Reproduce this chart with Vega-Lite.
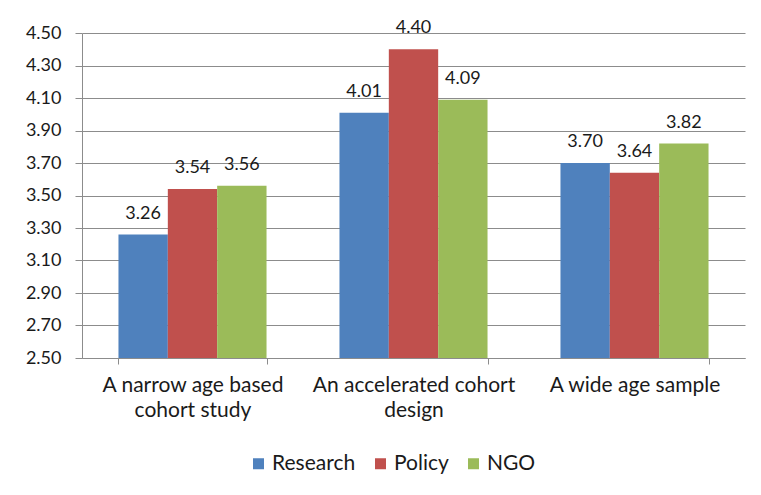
{
  "$schema": "https://vega.github.io/schema/vega-lite/v6.json",
  "width": 663,
  "height": 325,
  "autosize": {"type": "none"},
  "padding": {"left": 82, "top": 33, "right": 16, "bottom": 137},
  "background": "white",
  "data": {
    "values": [
      {"design": "A narrow age based cohort study", "group": "Research", "score": 3.26},
      {"design": "A narrow age based cohort study", "group": "Policy", "score": 3.54},
      {"design": "A narrow age based cohort study", "group": "NGO", "score": 3.56},
      {"design": "An accelerated cohort design", "group": "Research", "score": 4.01},
      {"design": "An accelerated cohort design", "group": "Policy", "score": 4.40},
      {"design": "An accelerated cohort design", "group": "NGO", "score": 4.09},
      {"design": "A wide age sample", "group": "Research", "score": 3.70},
      {"design": "A wide age sample", "group": "Policy", "score": 3.64},
      {"design": "A wide age sample", "group": "NGO", "score": 3.82}
    ]
  },
  "encoding": {
    "x": {
      "field": "design",
      "type": "nominal",
      "sort": null,
      "title": null,
      "scale": {"paddingInner": 0.33, "paddingOuter": 0.165},
      "axis": {
        "labelAngle": 0,
        "tickBand": "extent",
        "tickSize": 6,
        "tickColor": "#8c8c8c",
        "domainColor": "#8c8c8c",
        "labelPadding": 10,
        "labelLimit": 0,
        "labelFont": "Lato",
        "labelFontSize": 21,
        "labelColor": "#1a1a1a",
        "labelLineHeight": 25,
        "labelExpr": "datum.label == 'A narrow age based cohort study' ? ['A narrow age based', 'cohort study'] : datum.label == 'An accelerated cohort design' ? ['An accelerated cohort', 'design'] : datum.label"
      }
    },
    "xOffset": {"field": "group", "type": "nominal", "sort": ["Research", "Policy", "NGO"]},
    "y": {
      "field": "score",
      "type": "quantitative",
      "title": null,
      "scale": {"domain": [2.5, 4.5], "zero": false, "nice": false},
      "axis": {
        "values": [2.5, 2.7, 2.9, 3.1, 3.3, 3.5, 3.7, 3.9, 4.1, 4.3, 4.5],
        "format": ".2f",
        "tickSize": 7,
        "tickColor": "#8c8c8c",
        "domainColor": "#8c8c8c",
        "gridColor": "#8c8c8c",
        "labelPadding": 14,
        "labelFont": "Lato",
        "labelFontSize": 18,
        "labelColor": "#1a1a1a"
      }
    }
  },
  "layer": [
    {
      "mark": {"type": "bar", "clip": true},
      "encoding": {
        "color": {
          "field": "group",
          "type": "nominal",
          "sort": ["Research", "Policy", "NGO"],
          "scale": {"domain": ["Research", "Policy", "NGO"], "range": ["#4F81BD", "#C0504D", "#9BBB59"]},
          "legend": {
            "title": null,
            "orient": "none",
            "legendX": 166,
            "legendY": 420,
            "direction": "horizontal",
            "symbolType": "square",
            "symbolSize": 121,
            "symbolStrokeWidth": 0,
            "labelFont": "Lato",
            "labelFontSize": 21,
            "labelOffset": 3,
            "labelColor": "#1a1a1a",
            "columnPadding": 14
          }
        }
      }
    },
    {
      "mark": {"type": "text", "baseline": "alphabetic", "dy": -16, "font": "Lato", "fontSize": 18, "color": "#1a1a1a"},
      "encoding": {
        "text": {"field": "score", "type": "quantitative", "format": ".2f"}
      }
    }
  ],
  "config": {
    "view": {"stroke": null},
    "axis": {"gridWidth": 1}
  }
}
